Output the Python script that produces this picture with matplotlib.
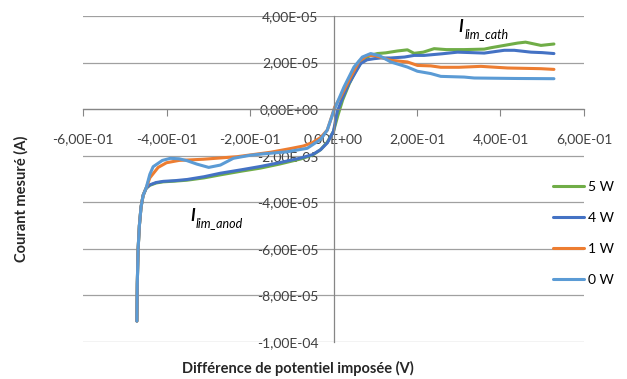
import matplotlib
matplotlib.use("Agg")
import matplotlib.pyplot as plt
from matplotlib.ticker import FuncFormatter

plt.rcParams['font.family'] = ['Lato', 'DejaVu Sans']

# Potential (V) and current (A), per power level
v_anod = [-0.471, -0.470, -0.468, -0.465, -0.461, -0.456, -0.449]
i_anod = [-9.1e-5, -7.5e-5, -6.0e-5, -5.0e-5, -4.2e-5, -3.7e-5, -3.4e-5]

v_5w = v_anod + [-0.440, -0.425, -0.408, -0.380, -0.351, -0.310, -0.271, -0.220,
                 -0.175, -0.130, -0.079, -0.050, -0.031, -0.015, 0.000, 0.010,
                 0.022, 0.038, 0.052, 0.066, 0.077, 0.090, 0.105, 0.125, 0.153,
                 0.177, 0.193, 0.215, 0.241, 0.270, 0.313, 0.361, 0.377, 0.409,
                 0.441, 0.460, 0.497, 0.528]
i_5w = i_anod + [-3.27e-5, -3.17e-5, -3.12e-5, -3.09e-5, -3.05e-5, -2.95e-5,
                 -2.82e-5, -2.66e-5, -2.53e-5, -2.36e-5, -2.14e-5, -1.97e-5,
                 -1.74e-5, -1.42e-5, -0.95e-5, -0.30e-5, 0.40e-5, 1.10e-5,
                 1.60e-5, 2.00e-5, 2.20e-5, 2.32e-5, 2.39e-5, 2.42e-5, 2.50e-5,
                 2.55e-5, 2.40e-5, 2.45e-5, 2.60e-5, 2.56e-5, 2.56e-5, 2.58e-5,
                 2.64e-5, 2.74e-5, 2.84e-5, 2.88e-5, 2.74e-5, 2.80e-5]

v_4w = v_anod + [-0.440, -0.425, -0.408, -0.380, -0.351, -0.310, -0.271, -0.220,
                 -0.175, -0.130, -0.079, -0.050, -0.031, -0.015, 0.000, 0.009,
                 0.022, 0.037, 0.050, 0.065, 0.080, 0.097, 0.113, 0.137, 0.170,
                 0.193, 0.217, 0.260, 0.297, 0.330, 0.361, 0.385, 0.409, 0.433,
                 0.473, 0.500, 0.528]
i_4w = i_anod + [-3.25e-5, -3.15e-5, -3.10e-5, -3.07e-5, -3.02e-5, -2.90e-5,
                 -2.75e-5, -2.60e-5, -2.46e-5, -2.30e-5, -2.10e-5, -1.95e-5,
                 -1.74e-5, -1.45e-5, -0.95e-5, -0.10e-5, 0.50e-5, 1.10e-5,
                 1.50e-5, 1.96e-5, 2.12e-5, 2.17e-5, 2.20e-5, 2.20e-5, 2.24e-5,
                 2.31e-5, 2.31e-5, 2.38e-5, 2.45e-5, 2.43e-5, 2.41e-5, 2.47e-5,
                 2.53e-5, 2.53e-5, 2.45e-5, 2.43e-5, 2.39e-5]

v_1w = v_anod + [-0.440, -0.420, -0.400, -0.370, -0.312, -0.231, -0.151, -0.100,
                 -0.072, -0.050, -0.031, -0.015, -0.007, 0.003, 0.017, 0.041,
                 0.061, 0.081, 0.100, 0.137, 0.177, 0.201, 0.233, 0.257, 0.300,
                 0.353, 0.417, 0.497, 0.528]
i_1w = i_anod + [-2.95e-5, -2.50e-5, -2.30e-5, -2.20e-5, -2.15e-5, -2.04e-5,
                 -1.85e-5, -1.68e-5, -1.58e-5, -1.43e-5, -1.22e-5, -0.90e-5,
                 -0.47e-5, 0.10e-5, 0.53e-5, 1.38e-5, 2.05e-5, 2.31e-5, 2.30e-5,
                 2.10e-5, 2.03e-5, 1.88e-5, 1.86e-5, 1.80e-5, 1.80e-5, 1.84e-5,
                 1.77e-5, 1.74e-5, 1.71e-5]

v_0w = v_anod + [-0.440, -0.432, -0.410, -0.391, -0.370, -0.351, -0.327, -0.299,
                 -0.271, -0.240, -0.200, -0.175, -0.111, -0.063, -0.031, -0.015,
                 0.000, 0.013, 0.025, 0.049, 0.069, 0.089, 0.110, 0.137, 0.177,
                 0.201, 0.233, 0.257, 0.313, 0.337, 0.433, 0.528]
i_0w = i_anod + [-2.80e-5, -2.47e-5, -2.20e-5, -2.11e-5, -2.13e-5, -2.21e-5,
                 -2.36e-5, -2.50e-5, -2.40e-5, -2.11e-5, -1.98e-5, -1.93e-5,
                 -1.83e-5, -1.68e-5, -1.30e-5, -0.90e-5, -0.10e-5, 0.45e-5,
                 0.95e-5, 1.81e-5, 2.24e-5, 2.39e-5, 2.30e-5, 2.03e-5, 1.81e-5,
                 1.63e-5, 1.53e-5, 1.41e-5, 1.38e-5, 1.34e-5, 1.32e-5, 1.31e-5]

series = [('5 W', v_5w, i_5w, '#70AD47'),
          ('4 W', v_4w, i_4w, '#4472C4'),
          ('1 W', v_1w, i_1w, '#ED7D31'),
          ('0 W', v_0w, i_0w, '#5B9BD5')]

x_ticks = [-0.6, -0.4, -0.2, 0.0, 0.2, 0.4, 0.6]
y_ticks = [-1e-4, -8e-5, -6e-5, -4e-5, -2e-5, 0.0, 2e-5, 4e-5]


def sci_fr(v, pos=None):
    return ('%.2E' % v).replace('.', ',')


fig = plt.figure(figsize=(6.27, 3.79), dpi=100)
ax = fig.add_axes([0.1324, 0.0976, 0.799, 0.860])

for label, v, i, color in series:
    ax.plot(v, i, color=color, lw=2.2, label=label, solid_capstyle='round',
            solid_joinstyle='round')

ax.set_xlim(-0.6, 0.6)
ax.set_ylim(-1e-4, 4e-5)
ax.set_xticks(x_ticks)
ax.set_yticks(y_ticks)
ax.xaxis.set_major_formatter(FuncFormatter(sci_fr))
ax.yaxis.set_major_formatter(FuncFormatter(sci_fr))

ax.spines['left'].set_position(('data', 0))
ax.spines['bottom'].set_position(('data', 0))
ax.spines['top'].set_visible(False)
ax.spines['right'].set_visible(False)
for s in ('left', 'bottom'):
    ax.spines[s].set_color('#868686')
    ax.spines[s].set_linewidth(0.9)

ax.grid(axis='y', color='#a0a0a0', lw=0.9)
ax.set_axisbelow(True)
ax.tick_params(axis='x', direction='out', length=5, color='#868686',
               labelsize=10, pad=12, labelcolor='#404040')
ax.tick_params(axis='y', length=0, labelsize=10, pad=11, labelcolor='#404040')

fig.text(0.034, 0.475, 'Courant mesuré (A)', rotation=90, ha='center',
         va='center', fontsize=10.5, fontweight='bold', color='#262626')
fig.text(0.475, 0.028, 'Différence de potentiel imposée (V)', ha='center',
         va='center', fontsize=10.5, fontweight='bold', color='#262626')

# limiting current labels
ax.text(0.300, 3.30e-5, 'I', fontsize=12, fontweight='bold', style='italic')
ax.text(0.313, 3.05e-5, 'lim_cath', fontsize=9, style='italic')
ax.text(-0.343, -4.80e-5, 'I', fontsize=12, fontweight='bold', style='italic')
ax.text(-0.330, -5.05e-5, 'lim_anod', fontsize=9, style='italic')

ax.legend(loc='upper left', bbox_to_anchor=(0.882, 0.522),
          bbox_transform=fig.transFigure, frameon=False, fontsize=10,
          handlelength=2.2, handletextpad=0.3, labelspacing=1.37,
          borderpad=0, borderaxespad=0)

fig.savefig('out.png', dpi=100)
